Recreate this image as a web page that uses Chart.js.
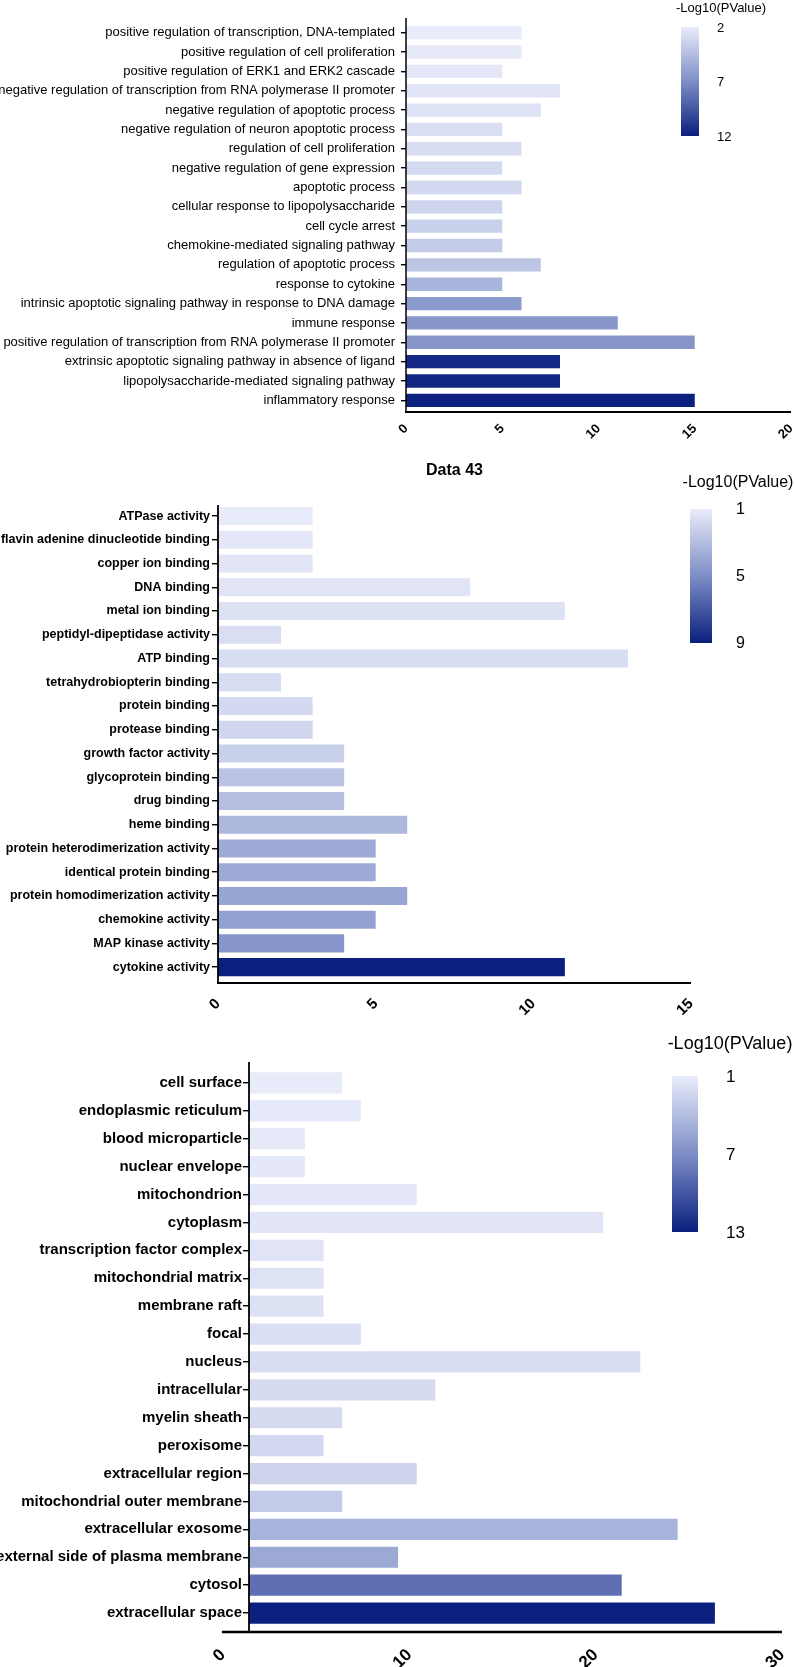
<!DOCTYPE html>
<html>
<head>
<meta charset="utf-8">
<script src="https://cdn.jsdelivr.net/npm/chart.js@4.4.0/dist/chart.umd.min.js"></script>
<style>
  html, body { margin: 0; padding: 0; background: #fff; }
  body { width: 794px; height: 1667px; position: relative; overflow: hidden; }
  .panel { position: absolute; left: 0; width: 794px; }
  canvas { display: block; }
</style>
</head>
<body>
<div class="panel" style="top:0"><canvas id="bpChart" width="794" height="440"></canvas></div>
<div class="panel" style="top:440px"><canvas id="mfChart" width="794" height="575"></canvas></div>
<div class="panel" style="top:1015px"><canvas id="ccChart" width="794" height="652"></canvas></div>
<script>
// biological process
const bpTerms = [
    "positive regulation of transcription, DNA-templated",
    "positive regulation of cell proliferation",
    "positive regulation of ERK1 and ERK2 cascade",
    "negative regulation of transcription from RNA polymerase II promoter",
    "negative regulation of apoptotic process",
    "negative regulation of neuron apoptotic process",
    "regulation of cell proliferation",
    "negative regulation of gene expression",
    "apoptotic process",
    "cellular response to lipopolysaccharide",
    "cell cycle arrest",
    "chemokine-mediated signaling pathway",
    "regulation of apoptotic process",
    "response to cytokine",
    "intrinsic apoptotic signaling pathway in response to DNA damage",
    "immune response",
    "positive regulation of transcription from RNA polymerase II promoter",
    "extrinsic apoptotic signaling pathway in absence of ligand",
    "lipopolysaccharide-mediated signaling pathway",
    "inflammatory response"
];
const bpCounts = [6, 6, 5, 8, 7, 5, 6, 5, 6, 5, 5, 5, 7, 5, 6, 11, 15, 8, 8, 15];
const bpLogP = [2.05, 2.15, 2.25, 2.4, 2.55, 2.7, 2.8, 2.95, 3.05, 3.3, 3.5, 3.7, 4.1, 5.0, 6.3, 6.6, 6.6, 11.5, 11.6, 11.9];
const bpScaleTicks = [2, 7, 12];

// molecular function
const mfTerms = [
    "ATPase activity",
    "flavin adenine dinucleotide binding",
    "copper ion binding",
    "DNA binding",
    "metal ion binding",
    "peptidyl-dipeptidase activity",
    "ATP binding",
    "tetrahydrobiopterin binding",
    "protein binding",
    "protease binding",
    "growth factor activity",
    "glycoprotein binding",
    "drug binding",
    "heme binding",
    "protein heterodimerization activity",
    "identical protein binding",
    "protein homodimerization activity",
    "chemokine activity",
    "MAP kinase activity",
    "cytokine activity"
];
const mfCounts = [3, 3, 3, 8, 11, 2, 13, 2, 3, 3, 4, 4, 4, 6, 5, 5, 6, 5, 4, 11];
const mfLogP = [1.05, 1.2, 1.3, 1.35, 1.45, 1.6, 1.65, 1.7, 1.8, 1.9, 2.2, 2.75, 2.9, 3.2, 3.8, 3.8, 4.0, 4.15, 4.6, 9.0];
const mfScaleTicks = [1, 5, 9];

// cellular component (values as read on the drawn axis)
const ccTerms = [
    "cell surface",
    "endoplasmic reticulum",
    "blood microparticle",
    "nuclear envelope",
    "mitochondrion",
    "cytoplasm",
    "transcription factor complex",
    "mitochondrial matrix",
    "membrane raft",
    "focal",
    "nucleus",
    "intracellular",
    "myelin sheath",
    "peroxisome",
    "extracellular region",
    "mitochondrial outer membrane",
    "extracellular exosome",
    "external side of plasma membrane",
    "cytosol",
    "extracellular space"
];
const ccValues = [6.4, 7.4, 4.4, 4.4, 10.4, 20.4, 5.4, 5.4, 5.4, 7.4, 22.4, 11.4, 6.4, 5.4, 10.4, 6.4, 24.4, 9.4, 21.4, 26.4];
const ccLogP = [1.06, 1.17, 1.22, 1.28, 1.33, 1.39, 1.5, 1.67, 1.72, 1.83, 1.94, 2.06, 2.17, 2.28, 2.56, 3.1, 4.6, 5.3, 8.6, 12.9];
const ccScaleTicks = [1, 7, 13];
const ccAxisTicks = [0, 10, 20, 30];

// colour ramp light -> navy
const ramp = [[0, [233, 236, 250]], [0.5, [125, 142, 198]], [1, [10, 31, 126]]];

function rampColor(t) {
    t = Math.max(0, Math.min(1, t));
    for (let i = 1; i < ramp.length; i++) {
        if (t <= ramp[i][0]) {
            const [t0, c0] = ramp[i - 1], [t1, c1] = ramp[i];
            const f = (t - t0) / (t1 - t0);
            return "rgb(" + c0.map((c, k) => Math.round(c + (c1[k] - c) * f)).join(",") + ")";
        }
    }
}

Chart.defaults.font.family = "'Liberation Sans', Arial, Helvetica, sans-serif";
Chart.defaults.color = "#000";

// axis lines drawn by hand so they can overrun the plot area like the original
const axisLines = {
    id: "axisLines",
    afterDraw(chart, args, o) {
        const ctx = chart.ctx, x = chart.scales.x;
        const yx = x.getPixelForValue(x.min);
        ctx.save();
        ctx.strokeStyle = "#000";
        ctx.lineWidth = o.yWidth;
        ctx.beginPath();
        ctx.moveTo(yx, o.top);
        ctx.lineTo(yx, o.xAt + 1);
        ctx.stroke();
        ctx.lineWidth = o.xWidth;
        ctx.beginPath();
        ctx.moveTo(x.getPixelForValue(o.from) - 1, o.xAt);
        ctx.lineTo(chart.chartArea.right, o.xAt);
        ctx.stroke();
        ctx.restore();
    }
};

const colorBar = {
    id: "colorBar",
    afterDraw(chart, args, o) {
        const ctx = chart.ctx;
        ctx.save();
        const g = ctx.createLinearGradient(0, o.top, 0, o.top + o.height);
        ramp.forEach(s => g.addColorStop(s[0], rampColor(s[0])));
        ctx.fillStyle = g;
        ctx.fillRect(o.left, o.top, o.width, o.height);
        ctx.fillStyle = "#000";
        ctx.textBaseline = "middle";
        ctx.textAlign = "center";
        ctx.font = o.titleFont;
        ctx.fillText("-Log10(PValue)", o.titleX, o.titleY);
        ctx.textAlign = "left";
        ctx.font = o.labelFont;
        const lo = o.ticks[0], hi = o.ticks[o.ticks.length - 1];
        o.ticks.forEach(v => {
            ctx.fillText(String(v), o.labelX, o.top + (v - lo) / (hi - lo) * o.height + 1);
        });
        ctx.restore();
    }
};

function makeChart(id, terms, values, logP, scaleTicks, p) {
    const lo = scaleTicks[0], hi = scaleTicks[scaleTicks.length - 1];
    return new Chart(document.getElementById(id), {
        type: "bar",
        data: {
            labels: terms,
            datasets: [{
                data: values,
                backgroundColor: logP.map(v => rampColor((v - lo) / (hi - lo))),
                borderWidth: 0,
                barPercentage: p.barPct,
                categoryPercentage: 1
            }]
        },
        options: {
            indexAxis: "y",
            responsive: false,
            animation: false,
            layout: { padding: p.padding },
            scales: {
                x: {
                    type: "linear",
                    min: p.min,
                    max: p.max,
                    beginAtZero: false,
                    border: { display: false },
                    grid: { display: false },
                    ticks: {
                        stepSize: p.step,
                        autoSkip: false,
                        minRotation: 45,
                        maxRotation: 45,
                        padding: p.xPad,
                        font: { size: p.xFont, weight: "bold" }
                    },
                    afterBuildTicks: p.axisTicks ? s => { s.ticks = p.axisTicks.map(v => ({ value: v })); } : undefined,
                    afterFit(s) { s.height = p.xHeight; s.paddingLeft = 0; s.paddingRight = 0; }
                },
                y: {
                    border: { display: false },
                    grid: {
                        offset: false,
                        drawOnChartArea: false,
                        drawTicks: true,
                        tickLength: p.tickLen,
                        color: "#000",
                        lineWidth: 1.4
                    },
                    ticks: {
                        autoSkip: false,
                        padding: p.yPad,
                        font: { size: p.yFont, weight: p.yWeight }
                    },
                    afterFit(s) { s.width = p.yWidth; s.paddingTop = 0; s.paddingBottom = 0; }
                }
            },
            plugins: {
                legend: { display: false },
                tooltip: { enabled: false },
                title: p.title ? {
                    display: true,
                    text: p.title,
                    fullSize: false,
                    font: { size: 16, weight: "bold" },
                    padding: { top: 21, bottom: 24 }
                } : { display: false },
                axisLines: p.lines,
                colorBar: p.bar
            }
        },
        plugins: [axisLines, colorBar]
    });
}

makeChart("bpChart", bpTerms, bpCounts, bpLogP, bpScaleTicks, {
    barPct: 0.69, padding: { top: 23, right: 3, left: 0, bottom: 0 },
    min: 0, max: 20, step: 5, xPad: 3, xFont: 13, xHeight: 30,
    yWidth: 406, tickLen: 5, yPad: 6, yFont: 13, yWeight: "normal",
    lines: { top: 18, xAt: 412, from: 0, yWidth: 1.5, xWidth: 2 },
    bar: { left: 681, top: 27, width: 18, height: 109, titleX: 721, titleY: 8,
           titleFont: "13px 'Liberation Sans', Arial", labelX: 717,
           labelFont: "13px 'Liberation Sans', Arial", ticks: bpScaleTicks }
});

makeChart("mfChart", mfTerms, mfCounts, mfLogP, mfScaleTicks, {
    barPct: 0.76, padding: { top: 0, right: 103, left: 0, bottom: 0 }, title: "Data 43",
    min: 0, max: 15, step: 5, xPad: 8, xFont: 15, xHeight: 36,
    yWidth: 218, tickLen: 6, yPad: 2, yFont: 12.5, yWeight: "bold",
    lines: { top: 65, xAt: 543, from: 0, yWidth: 1.8, xWidth: 2.2 },
    bar: { left: 690, top: 69, width: 22, height: 134, titleX: 738, titleY: 43,
           titleFont: "16px 'Liberation Sans', Arial", labelX: 736,
           labelFont: "16px 'Liberation Sans', Arial", ticks: mfScaleTicks }
});

makeChart("ccChart", ccTerms, ccValues, ccLogP, ccScaleTicks, {
    barPct: 0.76, padding: { top: 54, right: 12, left: 0, bottom: 0 },
    min: 1.4, max: 30, step: 10, axisTicks: ccAxisTicks, xPad: 10, xFont: 17, xHeight: 40,
    yWidth: 249, tickLen: 6, yPad: 1, yFont: 15, yWeight: "bold",
    lines: { top: 47, xAt: 617, from: 0, yWidth: 1.8, xWidth: 2.4 },
    bar: { left: 672, top: 61, width: 26, height: 156, titleX: 730, titleY: 29,
           titleFont: "18px 'Liberation Sans', Arial", labelX: 726,
           labelFont: "17px 'Liberation Sans', Arial", ticks: ccScaleTicks }
});
</script>
</body>
</html>
